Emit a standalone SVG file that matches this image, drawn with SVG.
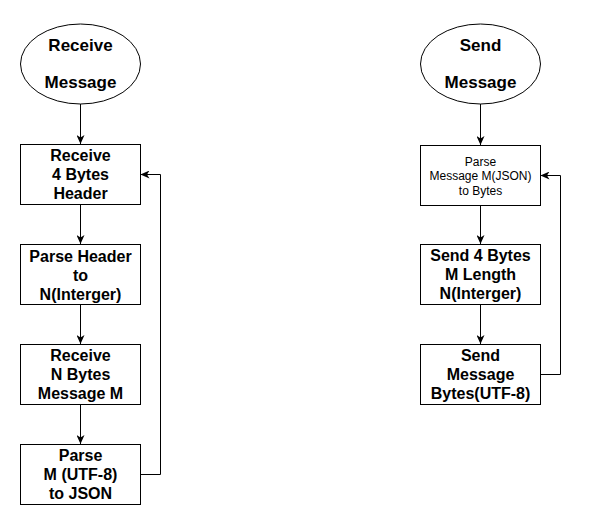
<svg xmlns="http://www.w3.org/2000/svg" width="589" height="525" viewBox="0 0 589 525">
<style>
.shape{fill:#fff;stroke:#000;stroke-width:1}
.edge{fill:none;stroke:#000;stroke-width:1}
text{font-family:"Liberation Sans",Arial,Helvetica,sans-serif;fill:#000;text-anchor:middle}
.t{font-size:16px;font-weight:bold}
.big{font-size:17px;font-weight:bold}
.small{font-size:12px}
</style>
<defs>
<marker id="arr" markerUnits="userSpaceOnUse" markerWidth="9" markerHeight="8" refX="9" refY="4" orient="auto">
<path d="M0,0 L9,4 L0,8 L2.5,4 z" fill="#000"/>
</marker>
</defs>
<rect width="589" height="525" fill="#fff"/>
<g id="connectors">
<path class="edge" d="M80.5,104 L80.5,144" marker-end="url(#arr)"/>
<path class="edge" d="M80.5,204 L80.5,244" marker-end="url(#arr)"/>
<path class="edge" d="M80.5,304 L80.5,344" marker-end="url(#arr)"/>
<path class="edge" d="M80.5,404 L80.5,444" marker-end="url(#arr)"/>
<path class="edge" d="M140.5,474.5 L160.5,474.5 L160.5,174.5 L140.5,174.5" marker-end="url(#arr)"/>
<path class="edge" d="M480.5,104 L480.5,145" marker-end="url(#arr)"/>
<path class="edge" d="M480.5,205 L480.5,244" marker-end="url(#arr)"/>
<path class="edge" d="M480.5,304 L480.5,344" marker-end="url(#arr)"/>
<path class="edge" d="M540.5,374.5 L560.5,374.5 L560.5,175.5 L540.5,175.5" marker-end="url(#arr)"/>
</g>
<g id="receive-message">
<ellipse class="shape" cx="80.5" cy="64" rx="60" ry="40"/>
<text class="big" x="80.5" y="51">Receive</text>
<text class="big" x="80.5" y="87.5">Message</text>
</g>
<g id="receive-header">
<rect class="shape" x="20.5" y="144.5" width="120" height="60"/>
<text class="t" x="80.5" y="161">Receive</text>
<text class="t" x="80.5" y="180">4 Bytes</text>
<text class="t" x="80.5" y="199">Header</text>
</g>
<g id="parse-header">
<rect class="shape" x="20.5" y="244.5" width="120" height="60"/>
<text class="t" x="80.5" y="262">Parse Header</text>
<text class="t" x="80.5" y="281">to</text>
<text class="t" x="80.5" y="300">N(Interger)</text>
</g>
<g id="receive-body">
<rect class="shape" x="20.5" y="344.5" width="120" height="60"/>
<text class="t" x="80.5" y="361">Receive</text>
<text class="t" x="80.5" y="380">N Bytes</text>
<text class="t" x="80.5" y="399">Message M</text>
</g>
<g id="parse-json">
<rect class="shape" x="20.5" y="444.5" width="120" height="60"/>
<text class="t" x="80.5" y="461">Parse</text>
<text class="t" x="80.5" y="480">M (UTF-8)</text>
<text class="t" x="80.5" y="499">to JSON</text>
</g>
<g id="send-message">
<ellipse class="shape" cx="480.5" cy="64" rx="60" ry="40"/>
<text class="big" x="480.5" y="51">Send</text>
<text class="big" x="480.5" y="87.5">Message</text>
</g>
<g id="parse-bytes">
<rect class="shape" x="420.5" y="145.5" width="120" height="60"/>
<text class="small" x="480.5" y="165.5">Parse</text>
<text class="small" x="480.5" y="180">Message M(JSON)</text>
<text class="small" x="480.5" y="194.5">to Bytes</text>
</g>
<g id="send-length">
<rect class="shape" x="420.5" y="244.5" width="120" height="60"/>
<text class="t" x="480.5" y="260.5">Send 4 Bytes</text>
<text class="t" x="480.5" y="279.5">M Length</text>
<text class="t" x="480.5" y="298.5">N(Interger)</text>
</g>
<g id="send-bytes">
<rect class="shape" x="420.5" y="344.5" width="120" height="60"/>
<text class="t" x="480.5" y="360.5">Send</text>
<text class="t" x="480.5" y="379.5">Message</text>
<text class="t" x="480.5" y="398.5">Bytes(UTF-8)</text>
</g>
</svg>
